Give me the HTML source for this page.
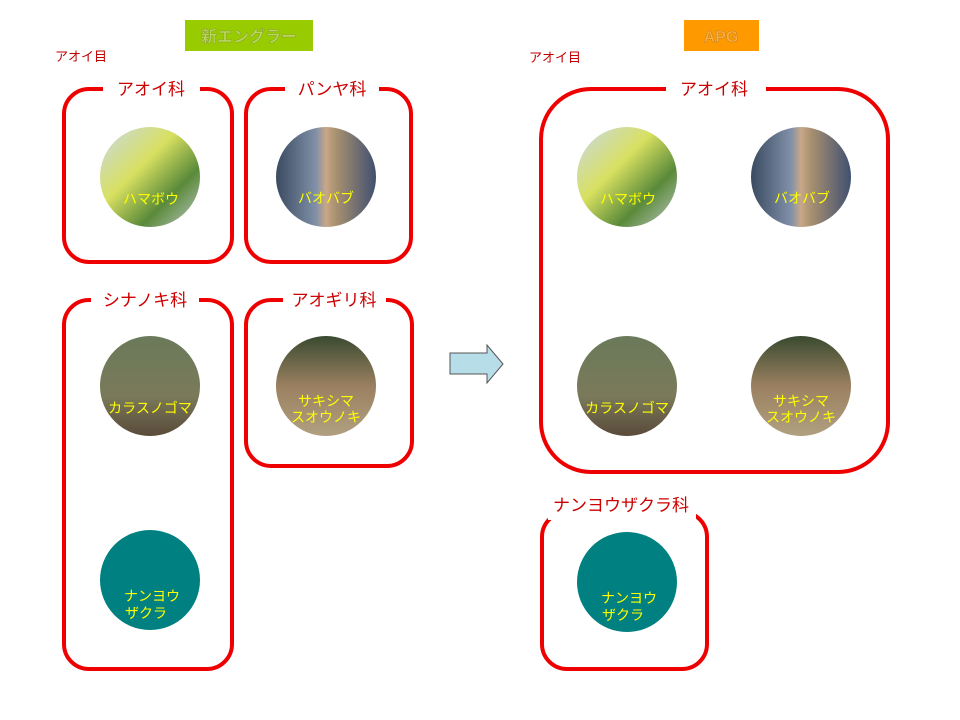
<!DOCTYPE html>
<html><head><meta charset="utf-8"><style>
body{margin:0;background:#fff}
svg{display:block}
text{font-family:"Liberation Sans","Noto Sans CJK JP",sans-serif}
</style></head><body>
<svg width="960" height="720" viewBox="0 0 960 720" xmlns="http://www.w3.org/2000/svg">
<defs>
<linearGradient id="g1" x1="0" y1="0" x2="1" y2="1"><stop offset="0" stop-color="#c8d8e8"/><stop offset="0.4" stop-color="#d8e060"/><stop offset="0.7" stop-color="#5a8a3a"/><stop offset="1" stop-color="#c0c8c8"/></linearGradient>
<linearGradient id="g2" x1="0" y1="0" x2="1" y2="0"><stop offset="0" stop-color="#3a4a60"/><stop offset="0.4" stop-color="#8090a8"/><stop offset="0.5" stop-color="#c8a888"/><stop offset="0.6" stop-color="#a89070"/><stop offset="1" stop-color="#405070"/></linearGradient>
<linearGradient id="g3" x1="0" y1="0" x2="0" y2="1"><stop offset="0" stop-color="#6a7a5a"/><stop offset="0.6" stop-color="#7a7a5a"/><stop offset="1" stop-color="#5a4a3a"/></linearGradient>
<linearGradient id="g4" x1="0" y1="0" x2="0" y2="1"><stop offset="0" stop-color="#3a4a30"/><stop offset="0.5" stop-color="#9a8060"/><stop offset="1" stop-color="#b0a080"/></linearGradient>
</defs>
<rect x="185" y="20" width="128" height="31" fill="#99cc00"/>
<text x="249" y="42" font-size="16" font-weight="bold" fill="#b8d860" stroke="#8aa030" stroke-width="0.5" text-anchor="middle">新エングラー</text>
<rect x="684" y="20" width="75" height="31" fill="#ff9900"/>
<text x="721" y="42" font-size="16" font-weight="bold" fill="#ffb040" stroke="#c08020" stroke-width="0.5" text-anchor="middle">APG</text>
<text x="55" y="61" font-size="13" fill="#c00000">アオイ目</text>
<text x="529" y="62" font-size="13" fill="#c00000">アオイ目</text>
<g fill="none" stroke="#ee0000" stroke-width="4">
<rect x="64" y="89" width="168" height="173" rx="25"/>
<rect x="246" y="89" width="165" height="173" rx="25"/>
<rect x="64" y="300" width="168" height="369" rx="25"/>
<rect x="246" y="300" width="166" height="166" rx="25"/>
<rect x="541" y="89" width="347" height="383" rx="50"/>
<rect x="542" y="512" width="165" height="157" rx="25"/>
</g>
<g fill="#fff">
<rect x="103" y="78" width="97" height="22"/>
<rect x="285" y="78" width="94" height="22"/>
<rect x="91" y="289" width="108" height="22"/>
<rect x="283" y="289" width="103" height="22"/>
<rect x="666" y="78" width="100" height="22"/>
<rect x="548" y="490" width="148" height="30"/>
</g>
<g font-size="17" fill="#cc0000" text-anchor="middle">
<text x="151" y="95">アオイ科</text>
<text x="332" y="95">パンヤ科</text>
<text x="145" y="306">シナノキ科</text>
<text x="334" y="306">アオギリ科</text>
<text x="714" y="95">アオイ科</text>
<text x="621" y="511">ナンヨウザクラ科</text>
</g>
<circle cx="150" cy="177" r="50" fill="url(#g1)"/>
<circle cx="326" cy="177" r="50" fill="url(#g2)"/>
<circle cx="150" cy="386" r="50" fill="url(#g3)"/>
<circle cx="326" cy="386" r="50" fill="url(#g4)"/>
<circle cx="150" cy="580" r="50" fill="#008080"/>
<circle cx="627" cy="177" r="50" fill="url(#g1)"/>
<circle cx="801" cy="177" r="50" fill="url(#g2)"/>
<circle cx="627" cy="386" r="50" fill="url(#g3)"/>
<circle cx="801" cy="386" r="50" fill="url(#g4)"/>
<circle cx="627" cy="582" r="50" fill="#008080"/>
<g font-size="14" fill="#ffff00" text-anchor="middle">
<text x="151" y="204">ハマボウ</text>
<text x="326" y="203">バオバブ</text>
<text x="150" y="413">カラスノゴマ</text>
<text x="326" y="406">サキシマ</text>
<text x="326" y="422">スオウノキ</text>
<text x="152" y="601">ナンヨウ</text>
<text x="146" y="618">ザクラ</text>
<text x="628" y="204">ハマボウ</text>
<text x="802" y="203">バオバブ</text>
<text x="627" y="413">カラスノゴマ</text>
<text x="801" y="406">サキシマ</text>
<text x="801" y="422">スオウノキ</text>
<text x="629" y="603">ナンヨウ</text>
<text x="623" y="620">ザクラ</text>
</g>
<path d="M450 353 H487 V345 L503 364 L487 383 V374 H450 Z" fill="#b7dde8" stroke="#555" stroke-width="1"/>
</svg>
</body></html>
